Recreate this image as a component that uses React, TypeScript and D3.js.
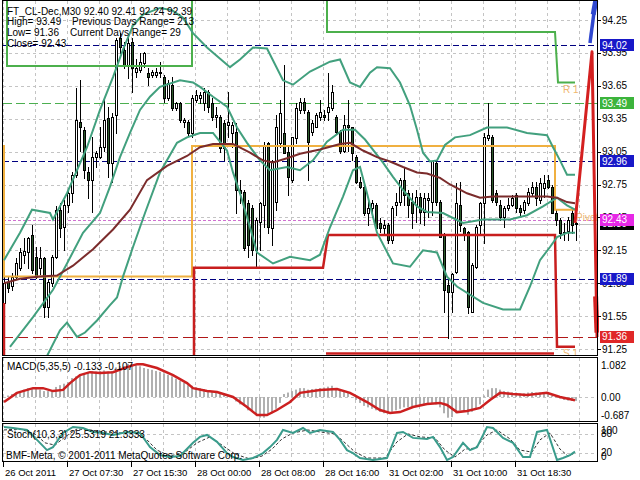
import React from 'react';
import * as d3 from 'd3';

type P = [number, number];

// OHLC per M30 bar
const candles: [number, number, number, number][] = [
  [91.67, 91.91, 91.63, 91.85], [91.86, 91.91, 91.77, 91.81], [91.82, 91.94, 91.79, 91.91], [91.91, 92.08, 91.90, 92.03],
  [91.99, 92.17, 91.97, 92.13], [92.11, 92.26, 92.03, 92.14], [92.13, 92.27, 91.99, 92.26], [92.29, 92.38, 91.94, 91.97],
  [92.09, 92.18, 91.90, 91.91], [91.99, 92.18, 91.93, 92.08], [92.08, 92.09, 91.54, 91.63], [91.63, 91.88, 91.54, 91.86],
  [91.85, 92.11, 91.82, 92.09], [92.09, 92.55, 92.08, 92.52], [92.52, 92.58, 92.27, 92.35], [92.36, 92.61, 92.15, 92.56],
  [92.56, 92.72, 92.50, 92.67], [92.67, 92.86, 92.59, 92.84], [92.84, 93.63, 92.82, 93.34], [93.32, 93.70, 93.06, 93.27],
  [93.25, 93.27, 92.81, 92.88], [92.86, 92.91, 92.63, 92.79], [92.79, 93.18, 92.50, 93.00], [93.00, 93.06, 92.91, 93.04],
  [93.00, 93.27, 92.99, 93.09], [93.09, 93.55, 93.06, 93.34], [93.36, 93.46, 92.82, 92.95], [92.95, 93.40, 92.77, 93.37],
  [93.38, 94.09, 93.22, 94.07], [94.09, 94.13, 93.95, 94.00], [93.98, 94.05, 93.81, 93.84], [93.84, 94.11, 93.72, 94.04],
  [94.05, 94.09, 93.59, 93.81], [93.78, 93.89, 93.73, 93.81], [93.79, 93.95, 93.78, 93.87], [93.86, 93.96, 93.82, 93.95],
  [93.77, 93.81, 93.66, 93.73], [93.75, 93.79, 93.73, 93.78], [93.75, 93.81, 93.73, 93.78], [93.78, 93.87, 93.73, 93.77],
  [93.73, 93.75, 93.50, 93.54], [93.54, 93.70, 93.52, 93.68], [93.66, 93.73, 93.43, 93.45], [93.45, 93.50, 93.43, 93.49],
  [93.49, 93.50, 93.32, 93.34], [93.32, 93.36, 93.27, 93.34], [93.32, 93.34, 93.20, 93.22], [93.22, 93.57, 93.18, 93.54],
  [93.52, 93.61, 93.50, 93.57], [93.54, 93.59, 93.49, 93.57], [93.49, 93.63, 93.43, 93.59], [93.59, 93.61, 93.41, 93.46],
  [93.49, 93.54, 93.34, 93.37], [93.37, 93.46, 93.27, 93.38], [93.37, 93.38, 93.05, 93.08], [93.31, 93.34, 92.97, 93.08],
  [93.29, 93.59, 93.18, 93.32], [93.22, 93.32, 93.09, 93.29], [93.23, 93.31, 92.49, 92.70], [92.70, 92.79, 92.58, 92.67],
  [92.68, 92.70, 92.15, 92.17], [92.58, 92.61, 92.09, 92.20], [92.54, 92.56, 92.11, 92.15], [92.15, 92.44, 91.99, 92.43],
  [92.41, 92.59, 92.15, 92.58], [92.56, 93.14, 92.36, 93.11], [93.13, 93.14, 92.31, 92.36], [92.35, 92.97, 92.20, 92.96],
  [92.59, 93.38, 92.52, 93.27], [93.13, 93.52, 93.09, 93.40], [93.22, 93.84, 93.04, 93.04], [93.05, 93.11, 92.65, 92.82],
  [92.79, 93.18, 92.77, 93.18], [93.17, 93.49, 93.13, 93.45], [93.43, 93.54, 93.40, 93.50], [93.50, 93.54, 93.40, 93.43],
  [93.41, 93.43, 92.79, 93.14], [93.23, 93.34, 93.20, 93.31], [93.27, 93.40, 93.27, 93.38], [93.37, 93.52, 93.34, 93.41],
  [93.38, 93.43, 93.34, 93.37], [93.41, 93.77, 93.34, 93.46], [93.45, 93.66, 93.43, 93.59], [93.37, 93.38, 93.22, 93.23],
  [93.23, 93.25, 93.04, 93.06], [93.06, 93.38, 93.05, 93.29], [93.29, 93.52, 93.06, 93.27], [93.27, 93.27, 92.97, 93.04],
  [93.00, 93.02, 92.76, 92.77], [92.77, 92.82, 92.72, 92.73], [92.73, 92.75, 92.47, 92.49], [92.49, 92.61, 92.38, 92.54],
  [92.54, 92.61, 92.45, 92.58], [92.56, 92.58, 92.32, 92.35], [92.40, 92.44, 92.32, 92.35], [92.35, 92.43, 92.29, 92.38],
  [92.38, 92.40, 92.22, 92.24], [92.24, 92.55, 92.22, 92.54], [92.56, 92.67, 92.47, 92.59], [92.59, 92.81, 92.56, 92.79],
  [92.79, 92.90, 92.56, 92.65], [92.67, 92.70, 92.45, 92.56], [92.59, 92.67, 92.35, 92.49], [92.56, 92.70, 92.41, 92.64],
  [92.64, 92.67, 92.40, 92.50], [92.50, 92.67, 92.38, 92.63], [92.61, 92.67, 92.45, 92.63], [92.59, 92.96, 92.47, 92.96],
  [92.95, 92.96, 92.56, 92.59], [92.59, 92.61, 92.27, 92.27], [92.29, 92.31, 91.59, 91.79], [91.83, 91.88, 91.35, 91.77],
  [91.77, 91.94, 91.59, 91.93], [91.95, 92.76, 91.94, 92.58], [92.56, 92.77, 92.33, 92.38], [92.35, 92.36, 92.24, 92.29],
  [92.32, 92.33, 91.58, 91.63], [91.59, 92.03, 91.59, 92.02], [92.00, 92.38, 91.99, 92.36], [92.38, 92.59, 92.31, 92.58],
  [92.58, 93.22, 92.22, 93.18], [93.17, 93.49, 93.16, 93.20], [93.18, 93.20, 92.59, 92.61], [92.67, 92.70, 92.56, 92.59],
  [92.56, 92.61, 92.43, 92.45], [92.45, 92.55, 92.36, 92.54], [92.54, 92.63, 92.52, 92.56], [92.56, 92.65, 92.55, 92.63],
  [92.65, 92.67, 92.50, 92.54], [92.54, 92.56, 92.47, 92.50], [92.52, 92.61, 92.49, 92.59], [92.58, 92.72, 92.56, 92.68],
  [92.67, 92.77, 92.65, 92.73], [92.73, 92.77, 92.56, 92.63], [92.61, 92.81, 92.58, 92.76], [92.72, 92.84, 92.64, 92.76],
  [92.79, 92.84, 92.72, 92.73], [92.73, 92.75, 92.49, 92.49], [92.49, 92.52, 92.38, 92.43], [92.43, 92.44, 92.26, 92.31],
  [92.31, 92.40, 92.24, 92.32], [92.33, 92.45, 92.24, 92.43], [92.49, 92.52, 92.31, 92.38], [92.40, 92.41, 92.24, 92.39],
];

// Bollinger bands and moving average, [bar index, price]
const upperBand: P[] = [
  [0, 92.06], [4, 92.31], [7, 92.52], [11.5, 92.49], [12.25, 92.43], [15.75, 92.67], [20.75, 93.09], [24, 93.43],
  [27.25, 93.73], [29.75, 93.98], [32.25, 94.2], [34.75, 94.3], [39, 94.36], [42, 94.34], [44.75, 94.27], [47.25, 94.13],
  [50.75, 94.0], [56.5, 93.82], [59, 93.89], [62.25, 94.0], [65.75, 93.99], [69.75, 93.7], [72.25, 93.66], [76.5, 93.78],
  [81.5, 93.87], [84, 93.89], [86.5, 93.68], [89, 93.64], [91.5, 93.77], [93.25, 93.82], [96.5, 93.81], [99, 93.68],
  [101.5, 93.47], [103.25, 93.25], [104.75, 93.04], [106.5, 92.96], [108.25, 92.97], [110.25, 93.11], [112.75, 93.18],
  [116.5, 93.2], [120.75, 93.27], [125.75, 93.27], [130.75, 93.22], [135.75, 93.2], [137.25, 93.09], [139, 92.97],
  [140.75, 92.84], [142.75, 92.84],
];
const middleBand: P[] = [
  [1.5, 91.27], [7.25, 91.54], [12.25, 91.79], [15.75, 92.03], [19.75, 92.31], [24, 92.49], [26.5, 92.73], [29, 93.0],
  [31.5, 93.22], [34, 93.43], [36.5, 93.55], [39, 93.64], [44, 93.7], [47.25, 93.68], [49, 93.64], [52.25, 93.55],
  [55.75, 93.46], [58.25, 93.27], [60.75, 93.13], [64, 92.97], [66.5, 92.88], [70.75, 92.91], [74, 92.88], [77.25, 92.97],
  [80.75, 93.14], [84.75, 93.25], [87.75, 93.25], [90.25, 93.16], [94.75, 92.95], [97.25, 92.82], [99.75, 92.7],
  [103.25, 92.55], [105.75, 92.5], [109.75, 92.49], [114.75, 92.4], [119.75, 92.43], [126.5, 92.43], [130.75, 92.47],
  [134.75, 92.55], [138.25, 92.63], [140.75, 92.56], [142.75, 92.52],
];
const lowerBand: P[] = [
  [10.25, 91.15], [14, 91.42], [15.75, 91.49], [18.25, 91.36], [20.25, 91.4], [23.25, 91.51], [26.5, 91.65], [28.25, 91.72],
  [29.75, 91.91], [32.25, 92.18], [35.25, 92.49], [39, 92.86], [43.25, 93.13], [45.75, 93.18], [49, 93.22], [52.25, 93.22],
  [55.75, 93.06], [57.25, 92.86], [59, 92.67], [61.5, 92.36], [63.25, 92.13], [67.25, 92.03], [71.5, 92.09], [76.5, 92.06],
  [79, 92.11], [81.5, 92.36], [84.75, 92.64], [87.25, 92.88], [89, 92.91], [90.75, 92.67], [93.25, 92.31], [97.25, 92.03],
  [101.5, 92.0], [104.75, 92.15], [108.25, 92.13], [110.75, 91.91], [113.25, 91.82], [119.75, 91.67], [124.75, 91.61],
  [129, 91.61], [131.5, 91.82], [134, 92.06], [136.5, 92.18], [138.25, 92.27], [140.75, 92.31], [142.75, 92.31],
];
const maLine: P[] = [
  [0, 91.85], [4, 91.89], [9, 91.91], [13.25, 91.92], [17.25, 92.01], [22.25, 92.16], [27.25, 92.34], [31.5, 92.52],
  [35.75, 92.79], [40.75, 92.92], [45.75, 93.01], [49, 93.09], [52.25, 93.12], [57.25, 93.12], [61.5, 93.04], [64.75, 92.97],
  [67.25, 92.95], [70.75, 92.99], [74, 93.03], [79, 93.07], [84, 93.12], [86.5, 93.13], [89.75, 93.06], [93.25, 93.0],
  [96.5, 92.96], [99.75, 92.91], [103.25, 92.86], [105.75, 92.85], [109, 92.81], [111.5, 92.75], [115.75, 92.67],
  [119, 92.63], [122.25, 92.64], [130.75, 92.64], [135.75, 92.64], [138.25, 92.63], [140.75, 92.59], [142.75, 92.58],
];

// daily pivot levels (step lines)
const pivotLine: P[] = [[0, 93.11], [0, 91.91], [47, 91.91], [47, 93.1], [137.75, 93.1], [137.75, 92.52], [143.5, 92.52]];
const r1Line: P[] = [[0.75, 94.8], [0.75, 93.83], [47, 93.83], [47, 94.8], [80.75, 94.8], [80.75, 94.14], [137.75, 94.14], [138.5, 93.68], [142.75, 93.68]];
const s1Line: P[] = [[0, 91.67], [0, 90.9], [47.5, 90.9], [47.5, 91.99], [79.75, 91.99], [81, 92.29], [137.75, 92.29], [138.25, 91.27], [142.75, 91.27]];
const s2Line: P[] = [[80.5, 91.21], [137.5, 91.21]];

// forecast lines at the right edge
const forecastRed: P[] = [[142.75, 92.4], [147, 93.96], [148.25, 91.36]];
const forecastRedBlob: P[] = [[147.9, 91.73], [148.25, 91.4]];
const forecastBlue: P[] = [[146.5, 94.04], [148, 94.46]];
const forecastBlueTip: P[] = [[147.3, 94.3], [148.1, 94.46]];

// MACD main (histogram) per bar
const macdHist: number[] = [
  0, 0.05, 0.1, 0.15, 0.2, 0.25, 0.3, 0.3, 0.28, 0.25,
  0.2, 0.2, 0.22, 0.34, 0.4, 0.45, 0.5, 0.64, 0.7, 0.76,
  0.81, 0.85, 0.87, 0.86, 0.88, 0.9, 0.86, 0.88, 1.0, 1.05,
  1.05, 1.12, 1.12, 1.08, 1.04, 0.98, 0.95, 0.92, 0.88, 0.85,
  0.8, 0.75, 0.7, 0.62, 0.55, 0.48, 0.4, 0.38, 0.33, 0.3,
  0.27, 0.22, 0.18, 0.15, 0.1, 0.07, 0.05, 0.03, -0.15, -0.25,
  -0.3, -0.45, -0.5, -0.6, -0.7, -0.7, -0.6, -0.55, -0.4, -0.2,
  0.1, 0.15, 0.2, 0.25, 0.3, 0.3, 0.25, 0.27, 0.28, 0.3,
  0.32, 0.35, 0.38, 0.3, 0.25, 0.2, 0.15, 0, -0.1, -0.2,
  -0.3, -0.35, -0.4, -0.45, -0.5, -0.55, -0.55, -0.5, -0.45, -0.4,
  -0.35, -0.35, -0.33, -0.3, -0.3, -0.28, -0.25, -0.2, -0.25, -0.35,
  -0.55, -0.7, -0.68, -0.55, -0.45, -0.5, -0.6, -0.5, -0.4, -0.25,
  0.05, 0.25, 0.3, 0.3, 0.25, 0.2, 0.18, 0.15, 0.15, 0.12,
  0.12, 0.15, 0.17, 0.15, 0.15, 0.15, 0.12, 0.05, 0, -0.05,
  -0.1, -0.12, -0.13, -0.133,
];
const macdSignal: P[] = [
  [0, -0.17], [3.25, 0.14], [7.25, 0.3], [9.75, 0.3], [12.25, 0.2], [14.75, 0.24], [16.5, 0.47], [19, 0.74], [21.5, 0.84],
  [24, 0.81], [27.25, 0.84], [30.75, 1.01], [33.25, 1.11], [34.75, 1.11], [38.25, 0.98], [42.25, 0.74], [45.75, 0.47],
  [47.25, 0.3], [50.75, 0.2], [53.25, 0.17], [57.25, 0], [60.75, -0.34], [63.25, -0.61], [65.75, -0.61], [68.25, -0.44],
  [71.5, -0.17], [74, 0.14], [79, 0.24], [83.25, 0.27], [86.5, 0.14], [90.75, -0.17], [94, -0.44], [96.5, -0.54],
  [99, -0.51], [102.25, -0.34], [105.75, -0.24], [109, -0.2], [110.75, -0.27], [113.25, -0.51], [115.75, -0.47],
  [119, -0.37], [121.5, -0.1], [124, 0.14], [127.25, 0.1], [130.75, 0.07], [135.75, 0.14], [139, 0], [142.75, -0.107],
];

// Stochastic
const stochMain: P[] = [
  [0, 100], [2.25, 97], [5.75, 91], [8.25, 61], [10.75, 30], [12.25, 39], [14.75, 82], [17.25, 100], [19.75, 97],
  [22.25, 85], [24.75, 82], [27.25, 76], [30.75, 85], [34, 82], [36.5, 39], [39, 15], [41.5, 9], [44, 12], [47.25, 52],
  [49, 70], [50.75, 76], [53.25, 55], [55.75, 21], [57.25, 9], [59.75, 0], [62.25, 6], [64.75, 21], [66.5, 39],
  [68.25, 61], [69.75, 91], [72.25, 82], [74.75, 97], [76.5, 82], [79, 91], [82.25, 85], [84, 61], [85.75, 30],
  [87.25, 21], [89, 6], [92.25, 0], [95.75, 6], [98.25, 82], [99.75, 85], [102.25, 67], [105.75, 64], [107.25, 70],
  [109, 39], [110.75, 0], [112.25, 9], [114.75, 52], [116.5, 30], [118.25, 39], [120.75, 100], [122.25, 97],
  [124.75, 67], [127.25, 52], [129.75, 9], [131.5, 9], [133.25, 85], [135.75, 91], [138.25, 0], [139.75, 6],
  [141.5, 15], [142.75, 25.5],
];
const stochSignal: P[] = [
  [0, 91], [4, 94], [7.75, 79], [10.25, 52], [12.75, 45], [15.25, 70], [18.25, 94], [21.5, 91], [25.25, 85], [29, 82],
  [32.75, 82], [35.75, 61], [38.25, 30], [41.5, 12], [45.25, 24], [48.25, 52], [51.5, 70], [54.5, 45], [57.75, 18],
  [61.5, 3], [64.5, 12], [67, 33], [69.5, 64], [72.25, 82], [76, 91], [79, 85], [82.75, 79], [85.25, 52], [87.75, 24],
  [90.75, 6], [95.25, 6], [98.25, 55], [101, 79], [104, 70], [107.75, 67], [110.25, 30], [112.75, 9], [115.25, 33],
  [117.75, 36], [120.75, 76], [123.25, 91], [126.5, 64], [129, 30], [132, 24], [134, 61], [136.5, 82], [139, 33],
  [141, 12], [142.75, 21.3],
];

const priceTicks = [94.25, 93.95, 93.65, 93.35, 93.05, 92.75, 92.45, 92.15, 91.85, 91.55, 91.25];
const levelPrices = [94.02, 93.49, 92.96, 92.43, 91.89, 91.36];
const bidPrice = 92.39;
const timeBars = [0, 16, 32, 48, 64, 80, 96, 112, 128];
const timeLabels = ['26 Oct 2011', '27 Oct 07:30', '27 Oct 15:30', '28 Oct 00:00', '28 Oct 08:00', '28 Oct 16:00', '31 Oct 02:00', '31 Oct 10:00', '31 Oct 18:30'];
const macdTicks = [1.082, 0, -0.687];
const macdTickLabels = ['1.082', '0.00', '-0.687'];
const stochTicks = [100, 80, 20, 0];
const stochLevels = [80, 20];
const infoLeft = ['FT_CL-Dec,M30  92.40 92.41 92.24 92.39', 'High= 93.49', 'Low= 91.36', 'Close= 92.43'];
const infoRight = ['Previous Days Range= 213', 'Current Days Range= 29'];

export default function App() {
  const x = d3.scaleLinear().domain([0, 143]).range([4, 576]);
  const y = d3.scaleLinear().domain([91.25, 94.25]).range([349, 20]);
  const yM = d3.scaleLinear().domain([0, 1.082]).range([397, 365]);
  const yS = d3.scaleLinear().domain([0, 100]).range([460, 427]);
  const mk = (ys: (v: number) => number) => d3.line<P>().x(d => x(d[0])).y(d => ys(d[1]));
  const pl = mk(y);
  const ml = mk(yM);
  const sl = mk(yS);
  const font = '"Liberation Sans", Arial, sans-serif';
  const gridX = d3.range(0, 145, 8).map(i => Math.round(x(i)) - 0.5);
  const gridCol = '#c4c4c4';

  const levelLine = ['#000080', '#4caf50', '#000080', '#d070d0', '#000080', '#b01818'];
  const levelDash = ['6,3', '9,4', '6,3', '3,2', '6,3', '10,5'];
  const levelBox = ['#1818c8', '#3cb43c', '#1818c8', '#e628e6', '#1818c8', '#e02828'];

  return (
    <svg width={640} height={480} style={{ position: 'absolute', left: 0, top: 0, background: '#fff' }}
      fontFamily={font} fontSize={10}>
      <defs>
        <clipPath id="cMain"><rect x={3} y={1} width={596} height={354} /></clipPath>
        <clipPath id="cMacd"><rect x={3} y={358} width={594} height={63} /></clipPath>
        <clipPath id="cSto"><rect x={3} y={424} width={594} height={37} /></clipPath>
      </defs>
      <rect x={0} y={0} width={640} height={480} fill="#fff" />

      {/* grids */}
      {gridX.map((gx, k) => (
        <g key={'gx' + k} stroke={gridCol} strokeDasharray="3,3">
          <line x1={gx} x2={gx} y1={1} y2={355} />
          <line x1={gx} x2={gx} y1={358} y2={421} />
          <line x1={gx} x2={gx} y1={424} y2={461} />
        </g>
      ))}
      {priceTicks.map((p, k) => (
        <line key={'gy' + k} x1={3} x2={597} y1={Math.round(y(p)) + 0.5} y2={Math.round(y(p)) + 0.5}
          stroke={gridCol} strokeDasharray="3,3" />
      ))}
      <line x1={3} x2={597} y1={Math.round(yM(0)) + 0.5} y2={Math.round(yM(0)) + 0.5} stroke={gridCol} strokeDasharray="3,3" />
      {stochLevels.map((v, k) => (
        <line key={'sl' + k} x1={3} x2={597} y1={Math.round(yS(v)) + 0.5} y2={Math.round(yS(v)) + 0.5} stroke={gridCol} strokeDasharray="3,3" />
      ))}

      {/* main panel */}
      <g clipPath="url(#cMain)">
        <line x1={3} x2={597} y1={Math.round(y(bidPrice)) + 0.5} y2={Math.round(y(bidPrice)) + 0.5} stroke="#c0c0c0" />
        {levelPrices.map((p, k) => (
          <line key={'lv' + k} x1={3} x2={597} y1={Math.round(y(p)) + 0.5} y2={Math.round(y(p)) + 0.5}
            stroke={levelLine[k]} strokeDasharray={levelDash[k]} />
        ))}

        {candles.map(([o, h, l, c], i) => {
          const xc = Math.round(x(i));
          const top = Math.round(y(Math.max(o, c)));
          const bot = Math.round(y(Math.min(o, c)));
          const hh = Math.max(bot - top, 1);
          const bull = c >= o;
          return (
            <g key={'c' + i}>
              <line x1={xc + 0.5} x2={xc + 0.5} y1={Math.round(y(h))} y2={Math.round(y(l)) + 1} stroke="#000" />
              <rect x={xc - 1} y={top} width={3} height={hh + 1} fill="#000" />
              {hh >= 2 && <rect x={xc} y={top + 1} width={1} height={hh - 1} fill={bull ? '#fff' : '#2c5a2c'} />}
            </g>
          );
        })}

        <path d={pl(r1Line) || ''} fill="none" stroke="#4cb04c" strokeWidth={2} />
        <path d={pl(pivotLine) || ''} fill="none" stroke="#f0b040" strokeWidth={2} />
        <path d={pl(s1Line) || ''} fill="none" stroke="#c81e1e" strokeWidth={2.5} />
        <path d={pl(s2Line) || ''} fill="none" stroke="#c81e1e" strokeWidth={2.5} />

        <path d={pl(upperBand) || ''} fill="none" stroke="#42a07e" strokeWidth={2} />
        <path d={pl(middleBand) || ''} fill="none" stroke="#42a07e" strokeWidth={2} />
        <path d={pl(lowerBand) || ''} fill="none" stroke="#42a07e" strokeWidth={2} />
        <path d={pl(maLine) || ''} fill="none" stroke="#7b2c2c" strokeWidth={2} />

        <text x={x(139.75)} y={y(93.68) + 10} fill="#f0b870">R 1</text>
        <text x={x(139.75)} y={y(91.27) + 10} fill="#f0b870">S 1</text>
        <text x={x(143)} y={y(92.52) + 11} fill="#f0b870">Pivot</text>

        <path d={pl(forecastRed) || ''} fill="none" stroke="#d42020" strokeWidth={3} strokeLinejoin="round" />
        <path d={pl(forecastRedBlob) || ''} fill="none" stroke="#d42020" strokeWidth={5} />
        <path d={pl(forecastBlue) || ''} fill="none" stroke="#3048d0" strokeWidth={3.5} />
        <path d={pl(forecastBlueTip) || ''} fill="none" stroke="#3048d0" strokeWidth={5} />

        {infoLeft.map((t, k) => (
          <text key={'il' + k} x={7} y={[15, 25, 36, 47][k]} fill="#000">{t}</text>
        ))}
        {infoRight.map((t, k) => (
          <text key={'ir' + k} x={[72, 70][k]} y={[25, 36][k]} fill="#000">{t}</text>
        ))}
      </g>

      {/* MACD */}
      <g clipPath="url(#cMacd)">
        {macdHist.map((v, i) => {
          const y0 = yM(0), y1 = yM(v);
          return <rect key={'h' + i} x={Math.round(x(i)) - 1} y={Math.min(y0, y1)} width={2}
            height={Math.max(Math.abs(y1 - y0), 0.5)} fill="#b0b0b0" />;
        })}
        <path d={ml(macdSignal) || ''} fill="none" stroke="#cc2020" strokeWidth={2.5} />
        <text x={7} y={370} fill="#000">MACD(5,35,5) -0.133 -0.107</text>
      </g>

      {/* Stoch */}
      <g clipPath="url(#cSto)">
        <path d={sl(stochSignal) || ''} fill="none" stroke="#333" strokeWidth={1} strokeDasharray="3,2" />
        <path d={sl(stochMain) || ''} fill="none" stroke="#3a9c8c" strokeWidth={2} />
        <text x={7} y={438} fill="#000">Stoch(10,3,3) 25.5319 21.3333</text>
        <text x={6} y={459} fill="#000">BMF-Meta, © 2001-2011 MetaQuotes Software Corp.</text>
      </g>

      {/* panel borders */}
      <g fill="none" stroke="#000">
        <rect x={2.5} y={0.5} width={595} height={355} />
        <rect x={2.5} y={357.5} width={595} height={64} />
        <rect x={2.5} y={423.5} width={595} height={38} />
      </g>

      {/* price axis */}
      {priceTicks.map((p, k) => (
        <g key={'pt' + k}>
          <line x1={598} x2={601} y1={Math.round(y(p)) + 0.5} y2={Math.round(y(p)) + 0.5} stroke="#000" />
          <text x={602} y={y(p) + 3.5} fill="#000">{p.toFixed(2)}</text>
        </g>
      ))}
      <g>
        <rect x={600} y={Math.round(y(bidPrice)) - 6} width={34} height={12} fill="#000" />
        <text x={602} y={y(bidPrice) + 3.5} fill="#fff">{bidPrice.toFixed(2)}</text>
      </g>
      {levelPrices.map((p, k) => (
        <g key={'lb' + k}>
          <rect x={600} y={Math.round(y(p)) - 6} width={34} height={12} fill={levelBox[k]} />
          <text x={602} y={y(p) + 3.5} fill="#fff">{p.toFixed(2)}</text>
        </g>
      ))}

      {macdTicks.map((v, k) => (
        <text key={'mt' + k} x={601} y={[369, 401, 419][k]} fill="#000">{macdTickLabels[k]}</text>
      ))}
      {stochTicks.map((v, k) => (
        <text key={'st' + k} x={601} y={[434, 437, 456, 460][k]} fill="#000">{String(v)}</text>
      ))}

      {timeBars.map((b, k) => (
        <g key={'tb' + k}>
          <line x1={Math.round(x(b)) - 0.5} x2={Math.round(x(b)) - 0.5} y1={462} y2={467} stroke="#000" />
          <text x={x(b) + 1} y={476} fill="#000" fontSize={9.5}>{timeLabels[k]}</text>
        </g>
      ))}
    </svg>
  );
}
